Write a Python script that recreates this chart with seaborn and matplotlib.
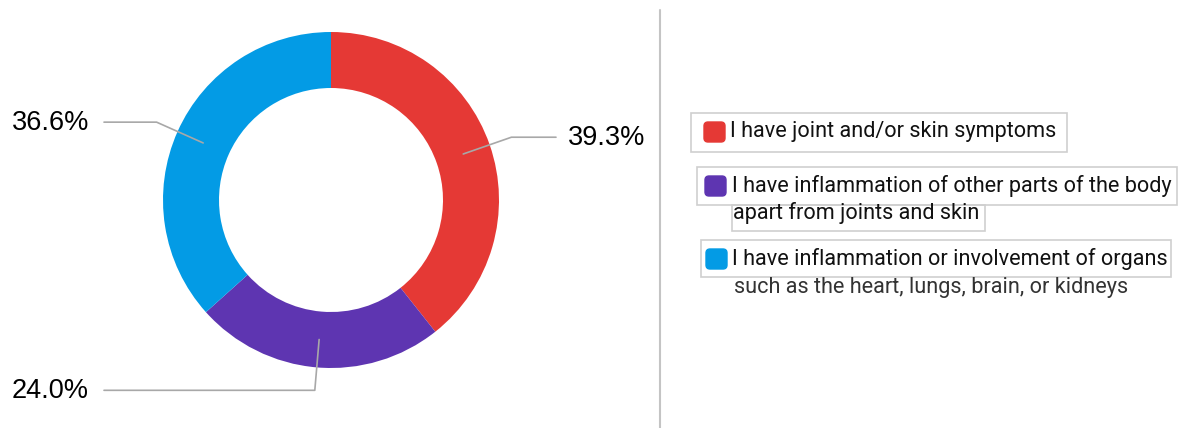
import numpy as np
import matplotlib
matplotlib.use("Agg")
import matplotlib.pyplot as plt
import seaborn as sns
from matplotlib.patches import Rectangle, FancyBboxPatch

# data
shares = [39.3, 24.0, 36.6]
pct_labels = ["39.3%", "24.0%", "36.6%"]
colors = ["#E53935", "#5E35B1", "#039BE5"]
legend_lines = [
    ["I have joint and/or skin symptoms"],
    ["I have inflammation of other parts of the body", "apart from joints and skin"],
    ["I have inflammation or involvement of organs", "such as the heart, lungs, brain, or kidneys"],
]

sns.set_theme(style="white")
plt.rcParams['font.family'] = ['Liberation Sans', 'DejaVu Sans']

W, H = 1183, 428
fig = plt.figure(figsize=(W / 100, H / 100), dpi=100)
ax = fig.add_axes([0, 0, 1, 1])

def py(y):
    # pixel row (top-down) -> data y
    return H - y

cx, cy = 331, py(200)
r_out, r_in = 168, 112

wedges, _ = ax.pie(shares, colors=colors, startangle=90, counterclock=False,
                   center=(cx, cy), radius=r_out,
                   wedgeprops=dict(width=r_out - r_in, linewidth=0))

ax.set_xlim(0, W)
ax.set_ylim(0, H)
ax.set_aspect('equal')
ax.axis('off')

# leader lines + percentage labels
r_mid = (r_out + r_in) / 2
r_elb = 191
for w, lab in zip(wedges, pct_labels):
    ang = np.deg2rad((w.theta1 + w.theta2) / 2)
    x0, y0 = cx + r_mid * np.cos(ang), cy + r_mid * np.sin(ang)
    x1, y1 = cx + r_elb * np.cos(ang), cy + r_elb * np.sin(ang)
    if np.cos(ang) >= 0 and abs(np.cos(ang)) > 0.2:
        x2 = 556
        ax.plot([x0, x1, x2], [y0, y1, y1], color="#a8a8a8", lw=1.2, zorder=3)
        ax.text(x2 + 12, y1 - 1, lab, ha='left', va='center', fontsize=19.5, color="#000000")
    else:
        x2 = 104
        ax.plot([x0, x1, x2], [y0, y1, y1], color="#a8a8a8", lw=1.2, zorder=3)
        ax.text(12, y1 - 1, lab, ha='left', va='center', fontsize=19.5, color="#000000")

# divider
ax.plot([660, 660], [py(10), py(428)], color="#c4c4c4", lw=1.5)

# legend
boxes = [
    [(691, 113, 1067, 152)],
    [(697, 167, 1177, 205), (732, 205, 985, 231)],
    [(701, 240, 1171, 277)],
]
markers = [(704, 122), (705, 176), (706, 249)]
text_y = [[131], [186, 213], [259, 287]]
text_x = [[730], [732, 733], [732, 734]]
text_col = [["#111111"], ["#111111", "#111111"], ["#111111", "#333333"]]

for i in range(3):
    for (x0, y0, x1, y1) in boxes[i]:
        ax.add_patch(Rectangle((x0, py(y1)), x1 - x0, y1 - y0, fill=False,
                               edgecolor="#cfcfcf", lw=1.2))
    mx, my = markers[i]
    ax.add_patch(FancyBboxPatch((mx + 2, py(my + 20) + 2), 17, 16,
                                boxstyle="round,pad=2,rounding_size=4",
                                facecolor=colors[i], edgecolor=colors[i], lw=1))
    for j, line in enumerate(legend_lines[i]):
        ax.text(text_x[i][j], py(text_y[i][j]), line, ha='left', va='center',
                fontsize=15.6, color=text_col[i][j], family=['Roboto', 'DejaVu Sans'])

fig.savefig("out.png", dpi=100)
